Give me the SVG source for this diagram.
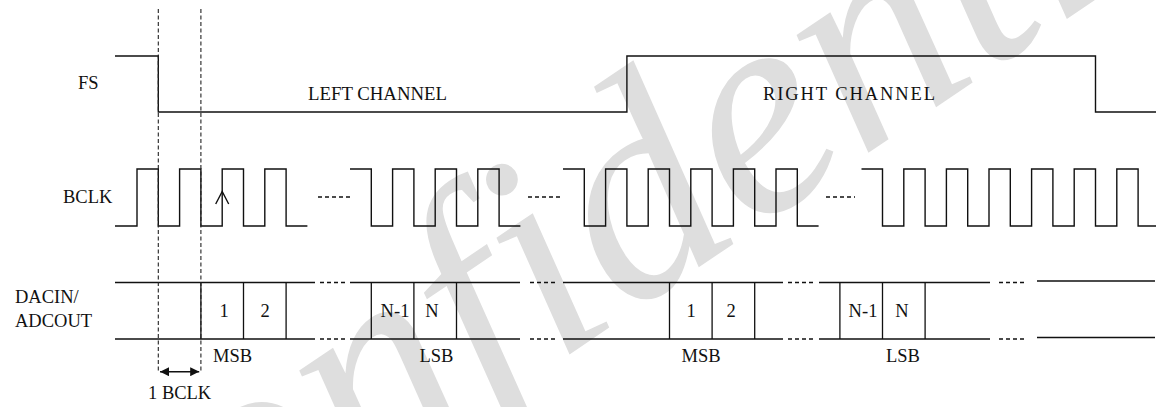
<svg xmlns="http://www.w3.org/2000/svg" width="1156" height="407" viewBox="0 0 1156 407">
<style>
.sig{fill:none;stroke:#111;stroke-width:1.4}
.dash{fill:none;stroke:#111;stroke-width:1.4;stroke-dasharray:4 3}
.guide{fill:none;stroke:#222;stroke-width:1.1;stroke-dasharray:4 2.5}
.cell{stroke:#111;stroke-width:1.3}
text{font-family:"Liberation Serif","Times New Roman",serif;font-size:18.5px;fill:#111}
.wm{font-family:"Liberation Serif","Times New Roman",serif;font-style:italic;font-size:300px;fill:#dedede}
</style>
<defs>
<marker id="ah" viewBox="0 0 10 10" refX="10" refY="5" markerWidth="9" markerHeight="9" markerUnits="userSpaceOnUse" orient="auto-start-reverse">
<path d="M0 0 L10 5 L0 10 Z" fill="#111"/>
</marker>
</defs>
<rect width="1156" height="407" fill="#fff"/>
<g id="watermark">
<text class="wm" transform="translate(72,690) rotate(-34)">Confidential</text>
</g>
<g id="labels">
<text x="78" y="89">FS</text>
<text x="63" y="203">BCLK</text>
<text x="15" y="303">DACIN/</text>
<text x="15" y="327">ADCOUT</text>
<text x="308" y="100" textLength="139" lengthAdjust="spacingAndGlyphs">LEFT CHANNEL</text>
<text x="763" y="100" textLength="172" lengthAdjust="spacing">RIGHT CHANNEL</text>
</g>
<g id="fs">
<path class="sig" d="M115 56 H158.3 V112 H626.9 V56 H1095.5 V112 H1156"/>
</g>
<g id="bclk">
<path class="sig" d="M115 226 H137 V169 H158.3 V226 H179.6 V169 H200.9 V226 H222.2 V169 H243.5 V226 H264.8 V169 H286.1 V226 H307.4"/>
<path class="dash" d="M318 197 H350"/>
<path class="sig" d="M350 169 H371.3 V226 H392.6 V169 H413.9 V226 H435.2 V169 H456.5 V226 H477.8 V169 H499.1 V226 H520.4"/>
<path class="dash" d="M528 197 H560"/>
<path class="sig" d="M563 169 H584.3 V226 H605.6 V169 H626.9 V226 H648.2 V169 H669.5 V226 H690.8 V169 H712.1 V226 H733.4 V169 H754.7 V226 H776 V169 H797.3 V226 H818.6"/>
<path class="dash" d="M826 197 H855"/>
<path class="sig" d="M861.5 169 H882.5 V226 H903.8 V169 H925.1 V226 H946.4 V169 H967.7 V226 H989 V169 H1010.3 V226 H1031.6 V169 H1052.9 V226 H1074.2 V169 H1095.5 V226 H1116.8 V169 H1138.1 V226 H1156"/>
<path class="sig" d="M215.7 204 L222.2 191.5 L228.7 204"/>
</g>
<g id="data">
<path class="sig" d="M115 282.5 H315 M350 282.5 H520 M563 282.5 H783 M819 282.5 H990 M1037 281 H1155"/>
<path class="sig" d="M115 339 H315 M350 339 H520 M563 339 H783 M819 339 H990 M1037 337.5 H1155"/>
<path class="dash" d="M320 282.5 H345 M530 282.5 H555 M788 282.5 H813 M999 282.5 H1024"/>
<path class="dash" d="M320 339 H345 M530 339 H555 M788 339 H813 M999 339 H1024"/>
<path class="cell" d="M200.9 282.5 V339 M243.5 282.5 V339 M286.1 282.5 V339 M371.3 282.5 V339 M413.9 282.5 V339 M456.5 282.5 V339 M669.5 282.5 V339 M712.1 282.5 V339 M754.7 282.5 V339 M839.9 282.5 V339 M882.5 282.5 V339 M925.1 282.5 V339"/>
<g text-anchor="middle">
<text x="224" y="317">1</text>
<text x="265" y="317">2</text>
<text x="395" y="317">N-1</text>
<text x="432" y="317">N</text>
<text x="691" y="317">1</text>
<text x="731" y="317">2</text>
<text x="863" y="317">N-1</text>
<text x="902" y="317">N</text>
<text x="232.5" y="362">MSB</text>
<text x="436.5" y="362">LSB</text>
<text x="701" y="362">MSB</text>
<text x="903" y="362">LSB</text>
</g>
</g>
<g id="guides">
<path class="guide" d="M158.3 9 V372 M200.9 9 V372"/>
<path class="sig" d="M160 371.7 H199.2" marker-start="url(#ah)" marker-end="url(#ah)"/>
<text x="148" y="399">1 BCLK</text>
</g>
</svg>
